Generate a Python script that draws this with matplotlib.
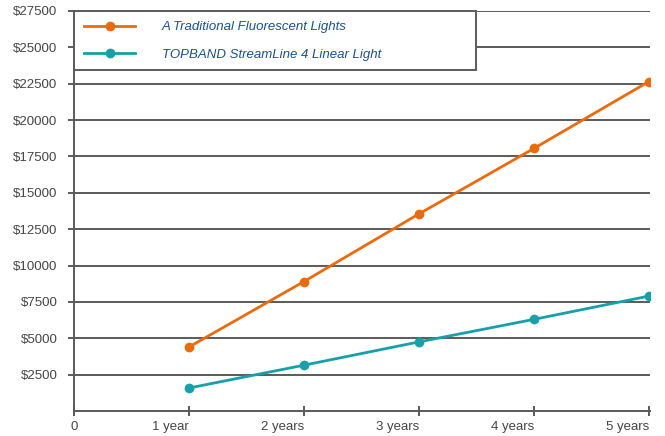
import matplotlib
matplotlib.use("Agg")
import matplotlib.pyplot as plt

plt.rcParams['font.family'] = ['Liberation Sans', 'DejaVu Sans']

years = [1, 2, 3, 4, 5]
x_labels = ['0', '1 year', '2 years', '3 years', '4 years', '5 years']
fluorescent = [4400, 8900, 13550, 18050, 22650]
topband = [1580, 3150, 4750, 6300, 7900]
y_ticks = [2500, 5000, 7500, 10000, 12500, 15000, 17500, 20000, 22500, 25000, 27500]

orange = '#ea6a0c'
teal = '#17a0a8'
grey = '#5a5a5a'

fig = plt.figure(figsize=(6.65, 4.36), dpi=100)
ax = fig.add_axes([74 / 665, 1 - 411 / 436, 576 / 665, 400 / 436])

for v in y_ticks:
    ax.axhline(v, color=grey, lw=1.4, zorder=1)

ax.plot(years, fluorescent, color=orange, lw=2, marker='o', ms=6,
        label='A Traditional Fluorescent Lights', zorder=3)
ax.plot(years, topband, color=teal, lw=2, marker='o', ms=6,
        label='TOPBAND StreamLine 4 Linear Light', zorder=3)

ax.set_xlim(0, 5.01)
ax.set_ylim(0, 27500)
ax.set_xticks(range(6))
ax.set_xticklabels(x_labels)
for i, lab in enumerate(ax.get_xticklabels()):
    lab.set_ha('center' if i == 0 else 'right')
ax.set_yticks(y_ticks)
ax.set_yticklabels(['$' + str(v) for v in y_ticks])

for s in ['top', 'right']:
    ax.spines[s].set_visible(False)
for s in ['left', 'bottom']:
    ax.spines[s].set_color(grey)
    ax.spines[s].set_linewidth(1.4)
ax.tick_params(axis='both', colors=grey, labelcolor='#444444', labelsize=9.5, width=1.4)
ax.tick_params(axis='y', length=4, pad=8)
ax.tick_params(axis='x', length=7, pad=4, direction='inout')

leg = ax.legend(loc='upper left', bbox_to_anchor=(0, 1.0, 0.698, 0), mode='expand',
                fancybox=False, edgecolor=grey, framealpha=1, fontsize=9.5,
                handlelength=3.9, handletextpad=2.0, labelspacing=1.15,
                borderpad=0.75, borderaxespad=0)
leg.get_frame().set_linewidth(1.4)
leg.set_zorder(5)
for t in leg.get_texts():
    t.set_color('#1d4f8b')
    t.set_style('italic')

fig.savefig('out.png', dpi=100)
